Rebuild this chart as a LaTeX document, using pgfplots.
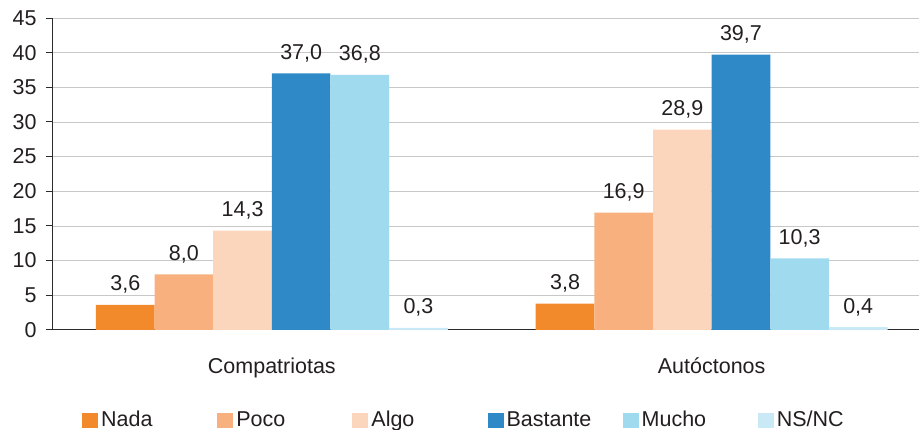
\documentclass[border=0pt]{standalone}
\usepackage{pgfplots}
\pgfplotsset{compat=1.18}
\usetikzlibrary{calc}
\usepackage{fontspec}
\setmainfont{Liberation Sans}

\definecolor{cNada}{HTML}{F28A2B}
\definecolor{cPoco}{HTML}{F8B07F}
\definecolor{cAlgo}{HTML}{FBD6BD}
\definecolor{cBast}{HTML}{2E89C6}
\definecolor{cMucho}{HTML}{9FDAEE}
\definecolor{cNSNC}{HTML}{C8E9F5}
\definecolor{axisgray}{HTML}{2B2B2B}
\definecolor{gridgray}{HTML}{C8C8C8}
\definecolor{txt}{HTML}{231F20}

\newcommand{\chartfont}{\fontsize{21.5bp}{25bp}\selectfont}
% fixed-width legend cells so the entries sit at an even pitch
\newcommand{\entry}[1]{\makebox[119.2bp][l]{\hspace{3bp}#1}}

\begin{document}
\begin{tikzpicture}[font=\chartfont, text=txt]
\begin{axis}[
  name=ax,
  scale only axis,
  width=867bp, height=312bp,
  xmin=0, xmax=1.9705,
  ymin=0, ymax=45,
  ybar=0pt,
  bar width=0.13333,
  axis x line*=bottom,
  axis y line*=left,
  axis line style={axisgray, line width=0.9pt},
  ytick={0,5,...,45},
  ymajorgrids,
  grid style={gridgray, line width=0.7pt},
  tick label style={font=\chartfont, text=txt},
  y tick label style={/pgf/number format/assume math mode=true, xshift=-6bp},
  ytick style={axisgray, line width=0.9pt},
  tick align=outside,
  major tick length=6bp,
  xtick={0.5,1.5},
  xticklabels={Compatriotas, Autóctonos},
  x tick label style={anchor=base, yshift=-38bp},
  xtick style={draw=none},
  extra x ticks={0,1},
  extra x tick labels={},
  extra x tick style={xtick style={axisgray, line width=0.9pt}, major tick length=6bp, grid=none},
  nodes near coords,
  nodes near coords style={
    /pgf/number format/.cd, fixed, fixed zerofill, precision=1, use comma,
    /tikz/.cd, anchor=base, yshift=14bp, font=\chartfont, text=txt,
    /pgf/number format/assume math mode=true},
  legend style={
    at={(rel axis cs:0.0346,-0.259)}, anchor=north west,
    draw=none, inner sep=0pt, legend columns=6, font=\chartfont,
    nodes={inner xsep=0bp, inner ysep=0bp, text height=16bp, text depth=2bp, text=txt},
    /tikz/every even column/.style={column sep=0bp}},
  legend image code/.code={\fill[#1] (0bp,-8bp) rectangle (16bp,7bp);},
  enlarge x limits=false,
]
\addplot[fill=cNada, draw=none] coordinates {(0.5,3.6) (1.5,3.8)};
\addplot[fill=cPoco, draw=none] coordinates {(0.5,8.0) (1.5,16.9)};
\addplot[fill=cAlgo, draw=none] coordinates {(0.5,14.3) (1.5,28.9)};
\addplot[fill=cBast, draw=none] coordinates {(0.5,37.0) (1.5,39.7)};
\addplot[fill=cMucho, draw=none] coordinates {(0.5,36.8) (1.5,10.3)};
\addplot[fill=cNSNC, draw=none] coordinates {(0.5,0.3) (1.5,0.4)};
\legend{\entry{Nada},\entry{Poco},\entry{Algo},\entry{Bastante},\entry{Mucho},\hspace{3bp}NS/NC}
\end{axis}
\path (ax.south west) ++(-52bp,-100bp) rectangle ($(ax.north east)+(0bp,18bp)$);
\end{tikzpicture}
\end{document}
